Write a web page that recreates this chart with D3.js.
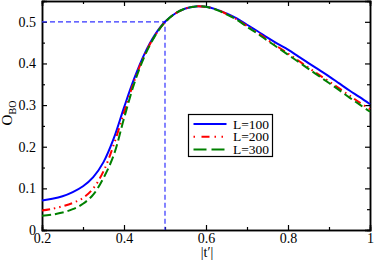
<!DOCTYPE html>
<html>
<head>
<meta charset="utf-8">
<script src="https://cdn.jsdelivr.net/npm/d3@7"></script>
<style>
  body { margin: 0; background: #fff; }
  text { font-family: "Liberation Serif", "DejaVu Serif", serif; }
</style>
</head>
<body>
<div id="chart"></div>
<script>
// data
var tValues = [0.2, 0.225, 0.25, 0.275, 0.3, 0.325, 0.35, 0.375, 0.4, 0.425, 0.45, 0.475, 0.5,
  0.525, 0.55, 0.575, 0.6, 0.625, 0.65, 0.675, 0.7, 0.725, 0.75, 0.775, 0.8, 0.825, 0.85, 0.875,
  0.9, 0.925, 0.95, 0.975, 1.0];
var obo100 = [0.071, 0.075, 0.081, 0.091, 0.105, 0.127, 0.163, 0.220, 0.294, 0.364, 0.423, 0.468, 0.500,
  0.520, 0.532, 0.537, 0.536, 0.530, 0.520, 0.508, 0.493, 0.478, 0.462, 0.447, 0.433, 0.417, 0.401, 0.385,
  0.369, 0.352, 0.335, 0.319, 0.302];
var obo200 = [0.047, 0.051, 0.057, 0.065, 0.077, 0.100, 0.141, 0.205, 0.282, 0.358, 0.420, 0.466, 0.499,
  0.520, 0.532, 0.537, 0.536, 0.530, 0.519, 0.506, 0.490, 0.474, 0.457, 0.440, 0.424, 0.407, 0.390, 0.373,
  0.357, 0.340, 0.323, 0.306, 0.290];
var obo300 = [0.034, 0.037, 0.042, 0.050, 0.063, 0.085, 0.125, 0.180, 0.268, 0.352, 0.417, 0.465, 0.499,
  0.520, 0.532, 0.537, 0.536, 0.529, 0.518, 0.505, 0.488, 0.472, 0.455, 0.438, 0.421, 0.404, 0.387, 0.370,
  0.353, 0.336, 0.318, 0.301, 0.284];
var seriesNames = ["L=100", "L=200", "L=300"];
var seriesColors = ["#0000ff", "#ff0000", "#008000"];
var xTicks = [0.2, 0.4, 0.6, 0.8, 1];
var yTicks = [0, 0.1, 0.2, 0.3, 0.4, 0.5];

var width = 374, height = 260;
var margin = {top: 1, right: 4, bottom: 30, left: 42};
var w = width - margin.left - margin.right;
var h = height - margin.top - margin.bottom;

// dash patterns: curve and legend sample
var curveDash = [null, "8,4,1.5,4,1.5,4", "9,4"];
var legendDash = [null, "8,5,1.5,5.5,1.5,6.5", "13,5"];
var legendOffset = [0, 20, 0];

var svg = d3.select("#chart").append("svg")
  .attr("width", width)
  .attr("height", height)
  .append("g")
  .attr("transform", "translate(" + margin.left + "," + margin.top + ")");

var x = d3.scaleLinear().domain([0.2, 1]).range([0, w]);
var y = d3.scaleLinear().domain([0, 0.55]).range([h, 0]);

function fmt(d) { return d === 0 ? "0" : d === 1 ? "1" : d3.format(".1f")(d); }

// minor ticks
var xMinor = [0.3, 0.5, 0.7, 0.9];
var yMinor = [0.05, 0.15, 0.25, 0.35, 0.45];

function styleAxis(g) {
  g.select(".domain").attr("stroke", "#000").attr("stroke-width", 1.5);
  g.selectAll(".tick line").attr("stroke", "#000").attr("stroke-width", 1.2);
  g.selectAll("text").attr("font-size", "14px").attr("fill", "#000")
    .style("font-family", "'Liberation Serif', serif");
}

svg.append("g").attr("transform", "translate(0," + h + ")")
  .call(d3.axisBottom(x).tickValues(xMinor).tickSize(-3).tickFormat(""))
  .call(styleAxis);
svg.append("g")
  .call(d3.axisTop(x).tickValues(xMinor).tickSize(-3).tickFormat(""))
  .call(styleAxis);
svg.append("g")
  .call(d3.axisLeft(y).tickValues(yMinor).tickSize(-3).tickFormat(""))
  .call(styleAxis);
svg.append("g").attr("transform", "translate(" + w + ",0)")
  .call(d3.axisRight(y).tickValues(yMinor).tickSize(-3).tickFormat(""))
  .call(styleAxis);

// major ticks
svg.append("g").attr("transform", "translate(0," + h + ")")
  .call(d3.axisBottom(x).tickValues(xTicks).tickSize(-5).tickPadding(3).tickFormat(fmt))
  .call(styleAxis);
svg.append("g")
  .call(d3.axisTop(x).tickValues(xTicks).tickSize(-5).tickFormat(""))
  .call(styleAxis);
svg.append("g")
  .call(d3.axisLeft(y).tickValues(yTicks).tickSize(-5).tickPadding(6).tickFormat(fmt))
  .call(styleAxis);
svg.append("g").attr("transform", "translate(" + w + ",0)")
  .call(d3.axisRight(y).tickValues(yTicks).tickSize(-5).tickFormat(""))
  .call(styleAxis);

// dashed guide lines at 0.5
svg.append("path")
  .attr("d", d3.line()([[x(0.2), y(0.5)], [x(0.5), y(0.5)], [x(0.5), y(0)]]))
  .attr("fill", "none")
  .attr("stroke", "#3333ff")
  .attr("stroke-width", 1.2)
  .attr("stroke-dasharray", "5,3");

// curves
var allSeries = [obo100, obo200, obo300];
var line = d3.line()
  .x(function(d, i) { return x(tValues[i]); })
  .y(function(d) { return y(d); })
  .curve(d3.curveCatmullRom);

allSeries.forEach(function(s, i) {
  svg.append("path")
    .datum(s)
    .attr("d", line)
    .attr("fill", "none")
    .attr("stroke", seriesColors[i])
    .attr("stroke-width", 2)
    .attr("stroke-dasharray", curveDash[i]);
});

// legend
var lg = svg.append("g").attr("transform", "translate(" + (188.5 - margin.left) + "," + (114.5 - margin.top) + ")");
lg.append("rect")
  .attr("width", 84).attr("height", 42)
  .attr("fill", "#fff").attr("stroke", "#000").attr("stroke-width", 1.2);
seriesNames.forEach(function(name, i) {
  var yy = 9.5 + i * 12.7;
  lg.append("line")
    .attr("x1", 5).attr("x2", 38).attr("y1", yy).attr("y2", yy)
    .attr("stroke", seriesColors[i]).attr("stroke-width", 2)
    .attr("stroke-dasharray", legendDash[i])
    .attr("stroke-dashoffset", legendOffset[i]);
  lg.append("text")
    .attr("x", 44.5).attr("y", yy + 4.5)
    .attr("font-size", "13.5px")
    .text(name);
});

// axis titles
svg.append("text")
  .attr("x", x(0.6) + 1)
  .attr("y", h + 27)
  .attr("text-anchor", "middle")
  .attr("font-size", "14px")
  .text("|t\u2032|");

var yl = svg.append("text")
  .attr("transform", "translate(" + (12 - margin.left) + "," + (113 - margin.top) + ") rotate(-90)")
  .attr("text-anchor", "middle")
  .attr("font-size", "15px");
yl.append("tspan").text("O");
yl.append("tspan").attr("font-size", "10px").attr("dy", 4).text("BO");
</script>
</body>
</html>
